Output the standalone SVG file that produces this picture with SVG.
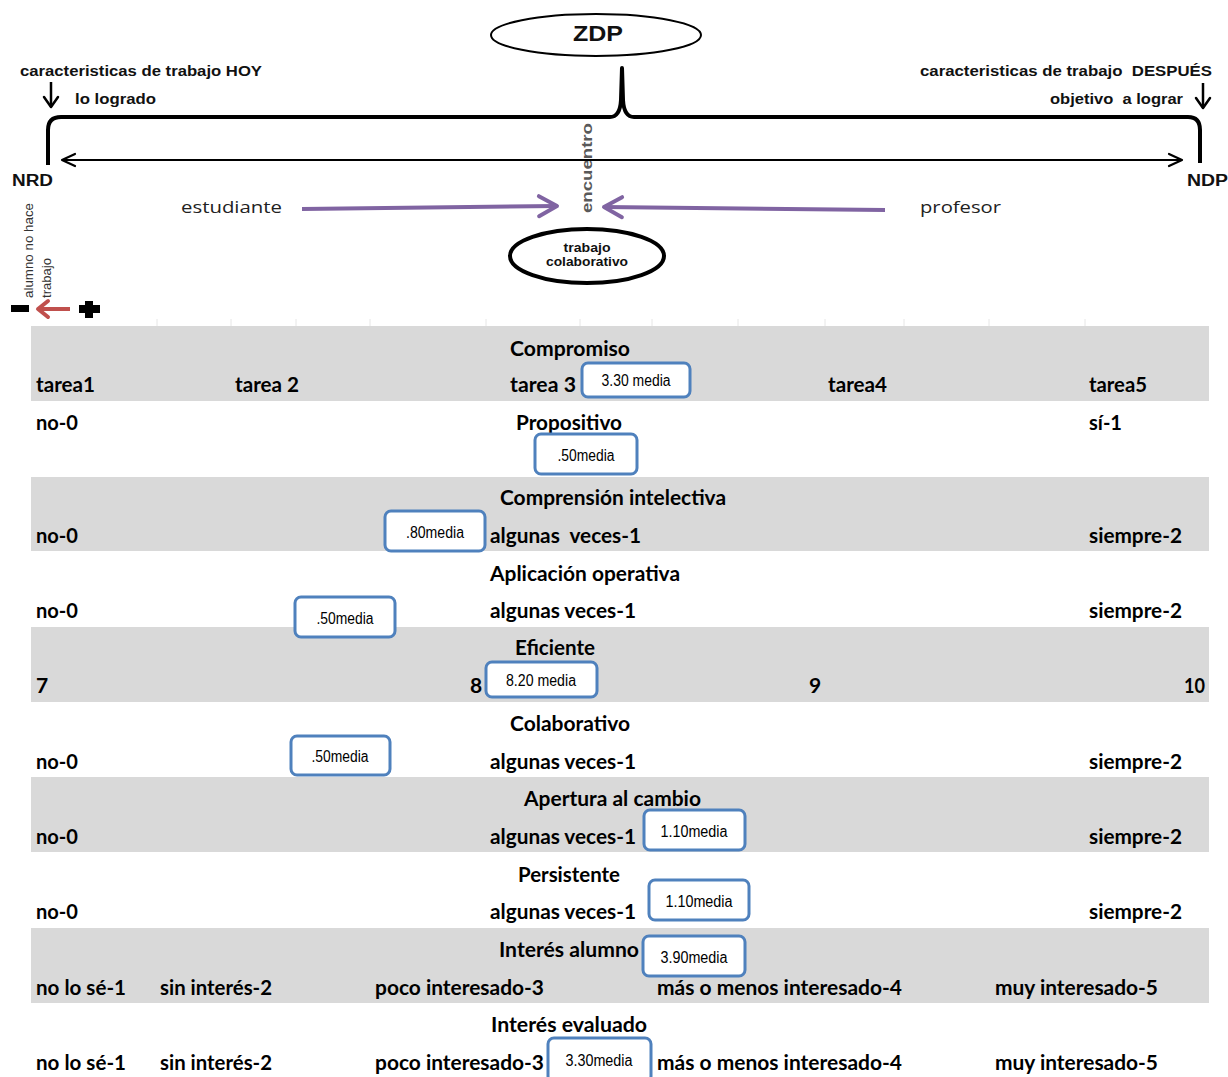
<svg xmlns="http://www.w3.org/2000/svg" width="1228" height="1077" viewBox="0 0 1228 1077">
  <style>
    .top { font-family: "Liberation Sans", Arial, sans-serif; font-weight: bold; fill: #111; }
    .soft { font-family: "Open Sans", "Liberation Sans", sans-serif; fill: #222; }
    .cell { font-family: Lato, "Liberation Sans", sans-serif; font-weight: 700; font-size: 21px; fill: #000; }
    .mid { text-anchor: middle; }
    .media { font-family: "Liberation Sans", Arial, sans-serif; font-size: 16px; fill: #000; text-anchor: middle; }
    .box { fill: #fff; stroke: #4f81bd; stroke-width: 3; }
    .band { fill: #d9d9d9; }
    .tick { stroke: #e6e6e6; stroke-width: 1; }
  </style>
  <defs>
    <marker id="hk" markerUnits="userSpaceOnUse" orient="auto-start-reverse" viewBox="-20 -15 30 30" markerWidth="30" markerHeight="30" refX="0" refY="0" overflow="visible">
      <path d="M-13,-6 L0,0 L-13,6" fill="none" stroke="#000" stroke-width="2.2" stroke-linecap="round" stroke-linejoin="round"/>
    </marker>
    <marker id="hdown" markerUnits="userSpaceOnUse" orient="auto" viewBox="-20 -15 30 30" markerWidth="30" markerHeight="30" refX="0" refY="0" overflow="visible">
      <path d="M-10,-7 L0,0 L-10,7" fill="none" stroke="#000" stroke-width="2.5" stroke-linecap="round" stroke-linejoin="round"/>
    </marker>
    <marker id="hpurple" markerUnits="userSpaceOnUse" orient="auto" viewBox="-25 -15 30 30" markerWidth="30" markerHeight="30" refX="0" refY="0" overflow="visible">
      <path d="M-18,-10 L0,0 L-18,10" fill="none" stroke="#8064a2" stroke-width="4" stroke-linecap="round" stroke-linejoin="round"/>
    </marker>
    <marker id="hred" markerUnits="userSpaceOnUse" orient="auto" viewBox="-20 -15 30 30" markerWidth="30" markerHeight="30" refX="0" refY="0" overflow="visible">
      <path d="M-10,-8 L0,0 L-10,8" fill="none" stroke="#c0504d" stroke-width="4" stroke-linecap="round" stroke-linejoin="round"/>
    </marker>
  </defs>

  <rect width="1228" height="1077" fill="#fff"/>

  <!-- upper scheme: nodes -->
  <g id="zdp">
    <ellipse cx="596" cy="35" rx="105" ry="21" fill="#fff" stroke="#000" stroke-width="2"/>
    <text class="top mid" x="598" y="41" font-size="22" textLength="50" lengthAdjust="spacingAndGlyphs">ZDP</text>
  </g>
  <g id="hoy">
    <text class="top" x="20" y="76" font-size="15" textLength="242" lengthAdjust="spacingAndGlyphs">caracteristicas de trabajo HOY</text>
    <text class="top" x="75" y="104" font-size="15" textLength="81" lengthAdjust="spacingAndGlyphs">lo logrado</text>
  </g>
  <g id="despues">
    <text class="top" x="920" y="76" font-size="15" textLength="292" lengthAdjust="spacingAndGlyphs" xml:space="preserve">caracteristicas de trabajo  DESPUÉS</text>
    <text class="top" x="1050" y="104" font-size="15" textLength="133" lengthAdjust="spacingAndGlyphs" xml:space="preserve">objetivo  a lograr</text>
  </g>
  <g id="nrd"><text class="top" x="12" y="186" font-size="16" textLength="41" lengthAdjust="spacingAndGlyphs">NRD</text></g>
  <g id="ndp"><text class="top" x="1187" y="186" font-size="16" textLength="41" lengthAdjust="spacingAndGlyphs">NDP</text></g>
  <g id="encuentro">
    <text class="top mid" transform="translate(592,168) rotate(-90)" x="0" y="0" font-size="14" style="fill:#595959" textLength="90" lengthAdjust="spacingAndGlyphs">encuentro</text>
  </g>
  <g id="estudiante"><text class="soft" x="181" y="213" font-size="17" textLength="101" lengthAdjust="spacingAndGlyphs">estudiante</text></g>
  <g id="profesor"><text class="soft" x="920" y="213" font-size="17" textLength="81" lengthAdjust="spacingAndGlyphs">profesor</text></g>
  <g id="trabajo-colaborativo">
    <ellipse cx="587" cy="256" rx="77" ry="27" fill="#fff" stroke="#000" stroke-width="4"/>
    <text class="top mid" x="587" y="252" font-size="12" textLength="47" lengthAdjust="spacingAndGlyphs">trabajo</text>
    <text class="top mid" x="587" y="266" font-size="12" textLength="82" lengthAdjust="spacingAndGlyphs">colaborativo</text>
  </g>
  <g id="escala">
    <text transform="translate(33,298) rotate(-90)" font-family="'Liberation Sans', Arial, sans-serif" font-size="13" fill="#333" textLength="95" lengthAdjust="spacingAndGlyphs">alumno no hace</text>
    <text transform="translate(51,298) rotate(-90)" font-family="'Liberation Sans', Arial, sans-serif" font-size="13" fill="#333" textLength="40" lengthAdjust="spacingAndGlyphs">trabajo</text>
    <rect x="11" y="305" width="18" height="7" fill="#000"/>
    <rect x="79" y="305" width="21" height="8" fill="#000"/>
    <rect x="85" y="301" width="8" height="17" fill="#000"/>
  </g>

  <!-- connectors -->
  <g id="connectors" fill="none">
    <path d="M48,165 L48,130 Q48,117 61,117 L610,117 Q620,117 621,100 L622,68 L623,100 Q624,117 634,117 L1188,117 Q1200,117 1200,130 L1200,163" stroke="#000" stroke-width="4" stroke-linejoin="round"/>
    <line x1="62" y1="160" x2="1182" y2="160" stroke="#000" stroke-width="2.2" marker-start="url(#hk)" marker-end="url(#hk)"/>
    <line x1="51" y1="82" x2="51" y2="107" stroke="#000" stroke-width="2.5" marker-end="url(#hdown)"/>
    <line x1="1203" y1="83" x2="1203" y2="108" stroke="#000" stroke-width="2.5" marker-end="url(#hdown)"/>
    <path d="M302,209 L557,206" stroke="#8064a2" stroke-width="4" marker-end="url(#hpurple)"/>
    <path d="M885,210 L604,207" stroke="#8064a2" stroke-width="4" marker-end="url(#hpurple)"/>
    <line x1="70" y1="309" x2="38" y2="309" stroke="#c0504d" stroke-width="4" marker-end="url(#hred)"/>
  </g>

  <!-- rating table -->
  <g id="grid">
    <g class="tick">
      <line x1="157" y1="319" x2="157" y2="326"/><line x1="231" y1="319" x2="231" y2="326"/>
      <line x1="296" y1="319" x2="296" y2="326"/><line x1="370" y1="319" x2="370" y2="326"/>
      <line x1="486" y1="319" x2="486" y2="326"/><line x1="580" y1="319" x2="580" y2="326"/>
      <line x1="652" y1="319" x2="652" y2="326"/><line x1="738" y1="319" x2="738" y2="326"/>
      <line x1="825" y1="319" x2="825" y2="326"/><line x1="904" y1="319" x2="904" y2="326"/>
      <line x1="989" y1="319" x2="989" y2="326"/><line x1="1085" y1="319" x2="1085" y2="326"/>
    </g>
    <rect class="band" x="31" y="326" width="1178" height="75"/>
    <rect class="band" x="31" y="477" width="1178" height="74"/>
    <rect class="band" x="31" y="627" width="1178" height="75"/>
    <rect class="band" x="31" y="777" width="1178" height="75"/>
    <rect class="band" x="31" y="928" width="1178" height="75"/>
  </g>

  <g id="compromiso">
    <text class="cell" x="510" y="356" textLength="120" lengthAdjust="spacingAndGlyphs">Compromiso</text>
    <text class="cell" x="36" y="392" textLength="59" lengthAdjust="spacingAndGlyphs">tarea1</text>
    <text class="cell" x="235" y="392" textLength="64" lengthAdjust="spacingAndGlyphs">tarea 2</text>
    <text class="cell" x="510" y="392" textLength="66" lengthAdjust="spacingAndGlyphs">tarea 3</text>
    <text class="cell" x="828" y="392" textLength="59" lengthAdjust="spacingAndGlyphs">tarea4</text>
    <text class="cell" x="1089" y="392" textLength="58" lengthAdjust="spacingAndGlyphs">tarea5</text>
    <rect class="box" x="582" y="363" width="108" height="34" rx="6"/>
    <text class="media" x="636" y="386" textLength="69" lengthAdjust="spacingAndGlyphs">3.30 media</text>
  </g>

  <g id="propositivo">
    <text class="cell" x="36" y="430" textLength="42" lengthAdjust="spacingAndGlyphs">no-0</text>
    <text class="cell" x="516" y="430" textLength="106" lengthAdjust="spacingAndGlyphs">Propositivo</text>
    <text class="cell" x="1089" y="430" textLength="33" lengthAdjust="spacingAndGlyphs">sí-1</text>
    <rect class="box" x="535" y="434" width="102" height="40" rx="6"/>
    <text class="media" x="586" y="461" textLength="57" lengthAdjust="spacingAndGlyphs">.50media</text>
  </g>

  <g id="comprension">
    <text class="cell" x="500" y="505" textLength="226" lengthAdjust="spacingAndGlyphs">Comprensión intelectiva</text>
    <text class="cell" x="36" y="543" textLength="42" lengthAdjust="spacingAndGlyphs">no-0</text>
    <text class="cell" x="490" y="543" textLength="151" lengthAdjust="spacingAndGlyphs" xml:space="preserve">algunas  veces-1</text>
    <text class="cell" x="1089" y="543" textLength="93" lengthAdjust="spacingAndGlyphs">siempre-2</text>
    <rect class="box" x="385" y="511" width="100" height="40" rx="6"/>
    <text class="media" x="435" y="538" textLength="58" lengthAdjust="spacingAndGlyphs">.80media</text>
  </g>

  <g id="aplicacion">
    <text class="cell" x="490" y="581" textLength="190" lengthAdjust="spacingAndGlyphs">Aplicación operativa</text>
    <text class="cell" x="36" y="618" textLength="42" lengthAdjust="spacingAndGlyphs">no-0</text>
    <text class="cell" x="490" y="618" textLength="146" lengthAdjust="spacingAndGlyphs">algunas veces-1</text>
    <text class="cell" x="1089" y="618" textLength="93" lengthAdjust="spacingAndGlyphs">siempre-2</text>
    <rect class="box" x="295" y="597" width="100" height="40" rx="6"/>
    <text class="media" x="345" y="624" textLength="57" lengthAdjust="spacingAndGlyphs">.50media</text>
  </g>

  <g id="eficiente">
    <text class="cell" x="515" y="655" textLength="80" lengthAdjust="spacingAndGlyphs">Eficiente</text>
    <text class="cell" x="36" y="693">7</text>
    <text class="cell" x="470" y="693">8</text>
    <text class="cell" x="809" y="693">9</text>
    <text class="cell" x="1184" y="693" textLength="21" lengthAdjust="spacingAndGlyphs">10</text>
    <rect class="box" x="486" y="662" width="111" height="35" rx="6"/>
    <text class="media" x="541" y="686" textLength="70" lengthAdjust="spacingAndGlyphs">8.20 media</text>
  </g>

  <g id="colaborativo">
    <text class="cell" x="510" y="731" textLength="120" lengthAdjust="spacingAndGlyphs">Colaborativo</text>
    <text class="cell" x="36" y="769" textLength="42" lengthAdjust="spacingAndGlyphs">no-0</text>
    <text class="cell" x="490" y="769" textLength="146" lengthAdjust="spacingAndGlyphs">algunas veces-1</text>
    <text class="cell" x="1089" y="769" textLength="93" lengthAdjust="spacingAndGlyphs">siempre-2</text>
    <rect class="box" x="291" y="736" width="99" height="39" rx="6"/>
    <text class="media" x="340" y="762" textLength="57" lengthAdjust="spacingAndGlyphs">.50media</text>
  </g>

  <g id="apertura">
    <text class="cell" x="524" y="806" textLength="177" lengthAdjust="spacingAndGlyphs">Apertura al cambio</text>
    <text class="cell" x="36" y="844" textLength="42" lengthAdjust="spacingAndGlyphs">no-0</text>
    <text class="cell" x="490" y="844" textLength="146" lengthAdjust="spacingAndGlyphs">algunas veces-1</text>
    <text class="cell" x="1089" y="844" textLength="93" lengthAdjust="spacingAndGlyphs">siempre-2</text>
    <rect class="box" x="644" y="810" width="101" height="40" rx="6"/>
    <text class="media" x="694" y="837" textLength="67" lengthAdjust="spacingAndGlyphs">1.10media</text>
  </g>

  <g id="persistente">
    <text class="cell" x="518" y="882" textLength="102" lengthAdjust="spacingAndGlyphs">Persistente</text>
    <text class="cell" x="36" y="919" textLength="42" lengthAdjust="spacingAndGlyphs">no-0</text>
    <text class="cell" x="490" y="919" textLength="146" lengthAdjust="spacingAndGlyphs">algunas veces-1</text>
    <text class="cell" x="1089" y="919" textLength="93" lengthAdjust="spacingAndGlyphs">siempre-2</text>
    <rect class="box" x="649" y="880" width="100" height="40" rx="6"/>
    <text class="media" x="699" y="907" textLength="67" lengthAdjust="spacingAndGlyphs">1.10media</text>
  </g>

  <g id="interes-alumno">
    <text class="cell" x="499" y="957" textLength="140" lengthAdjust="spacingAndGlyphs">Interés alumno</text>
    <text class="cell" x="36" y="995" textLength="90" lengthAdjust="spacingAndGlyphs">no lo sé-1</text>
    <text class="cell" x="160" y="995" textLength="112" lengthAdjust="spacingAndGlyphs">sin interés-2</text>
    <text class="cell" x="375" y="995" textLength="169" lengthAdjust="spacingAndGlyphs">poco interesado-3</text>
    <text class="cell" x="657" y="995" textLength="245" lengthAdjust="spacingAndGlyphs">más o menos interesado-4</text>
    <text class="cell" x="995" y="995" textLength="163" lengthAdjust="spacingAndGlyphs">muy interesado-5</text>
    <rect class="box" x="643" y="936" width="102" height="40" rx="6"/>
    <text class="media" x="694" y="963" textLength="67" lengthAdjust="spacingAndGlyphs">3.90media</text>
  </g>

  <g id="interes-evaluado">
    <text class="cell" x="491" y="1032" textLength="156" lengthAdjust="spacingAndGlyphs">Interés evaluado</text>
    <text class="cell" x="36" y="1070" textLength="90" lengthAdjust="spacingAndGlyphs">no lo sé-1</text>
    <text class="cell" x="160" y="1070" textLength="112" lengthAdjust="spacingAndGlyphs">sin interés-2</text>
    <text class="cell" x="375" y="1070" textLength="169" lengthAdjust="spacingAndGlyphs">poco interesado-3</text>
    <text class="cell" x="657" y="1070" textLength="245" lengthAdjust="spacingAndGlyphs">más o menos interesado-4</text>
    <text class="cell" x="995" y="1070" textLength="163" lengthAdjust="spacingAndGlyphs">muy interesado-5</text>
    <rect class="box" x="548" y="1038" width="103" height="44" rx="6"/>
    <text class="media" x="599" y="1066" textLength="67" lengthAdjust="spacingAndGlyphs">3.30media</text>
  </g>
</svg>
